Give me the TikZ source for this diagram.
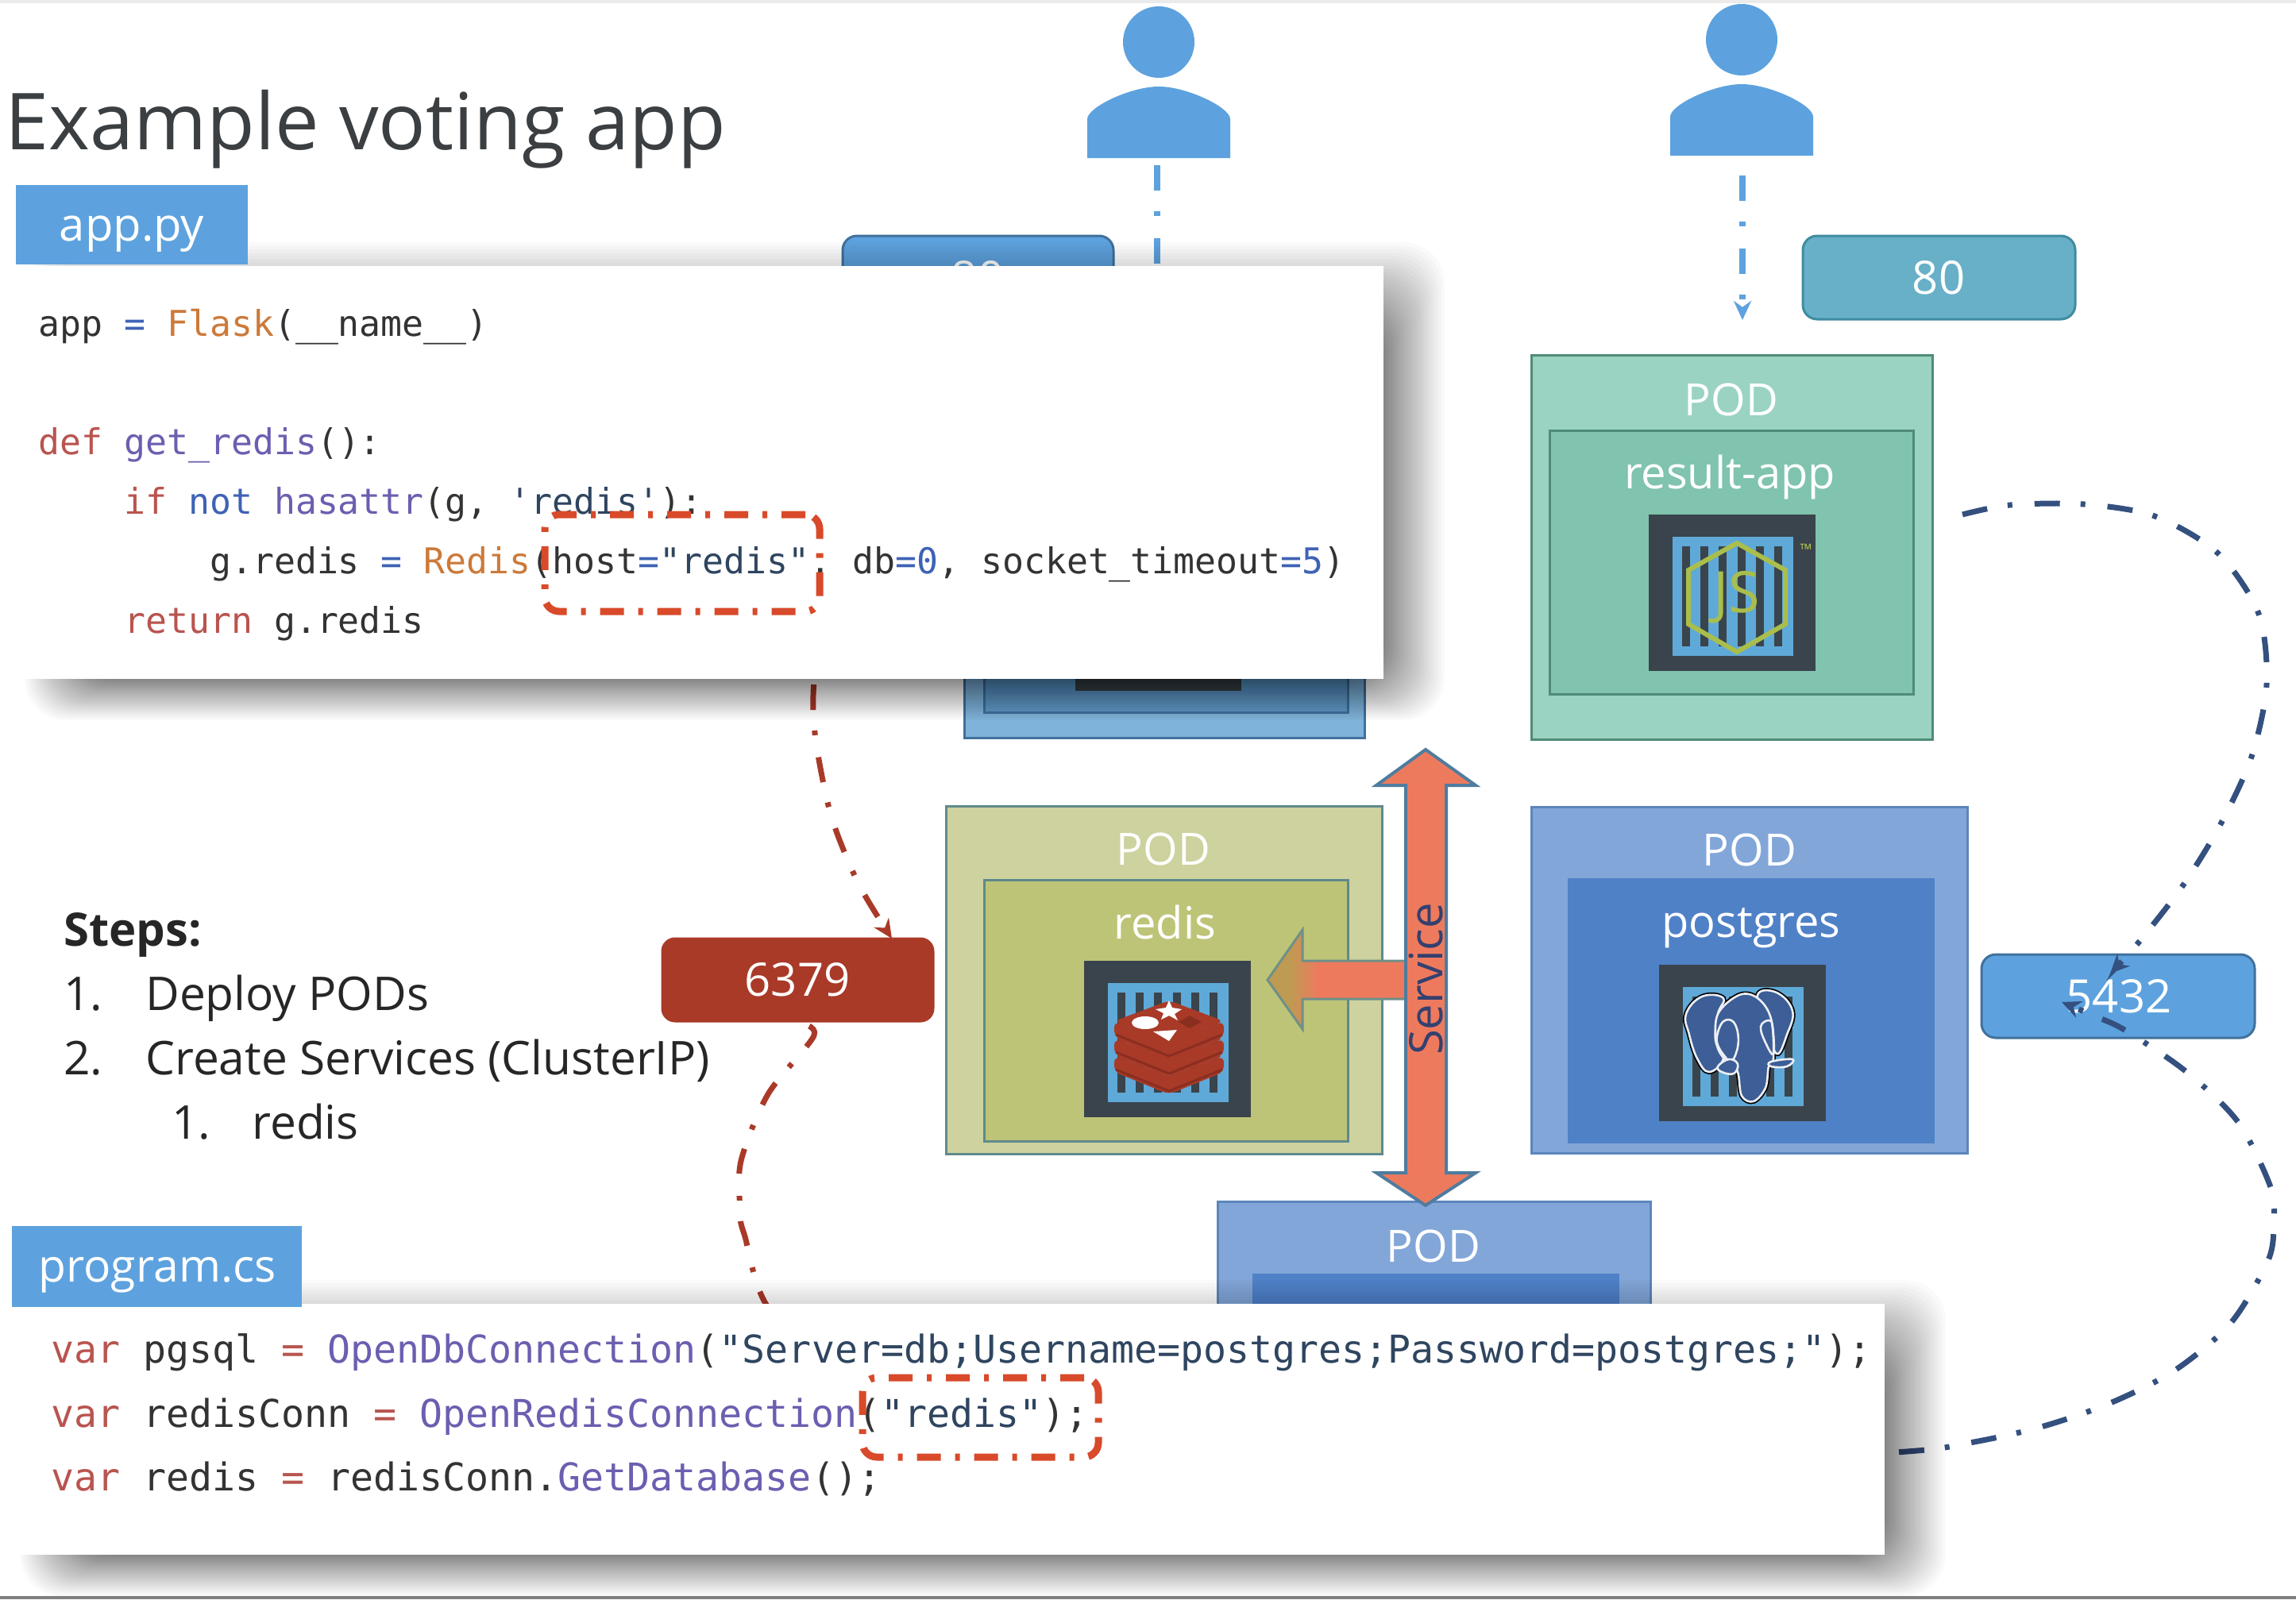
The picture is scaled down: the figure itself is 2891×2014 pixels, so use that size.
\documentclass[tikz,border=0pt]{standalone}
\usepackage{fontspec}
\setmainfont{Open Sans}
\setmonofont{DejaVu Sans Mono}
\usetikzlibrary{fit,arrows.meta,calc}
\definecolor{iconblue}{HTML}{5DA2DE}
\definecolor{dark}{HTML}{3A444C}
\definecolor{cblue}{HTML}{5FA9D8}
\definecolor{navy}{HTML}{34507F}
\definecolor{brick}{HTML}{A93A28}
\definecolor{brickdark}{HTML}{8A2E20}
\definecolor{redbox}{HTML}{D84A2A}
\definecolor{ckw}{HTML}{B9544F}
\definecolor{corg}{HTML}{CC7A3A}
\definecolor{cpur}{HTML}{6A5FB0}
\definecolor{cblu}{HTML}{3F62B5}
\definecolor{cstr}{HTML}{2F4560}
\definecolor{ctxt}{HTML}{333333}
\definecolor{nodeg}{HTML}{A9BE4C}
\definecolor{resout}{HTML}{9AD3C2}
\definecolor{resin}{HTML}{80C3AE}
\definecolor{resline}{HTML}{4F8C78}
\definecolor{redout}{HTML}{CDD29E}
\definecolor{redin}{HTML}{BEC477}
\definecolor{redline}{HTML}{5F8A8C}
\definecolor{pgout}{HTML}{82A6D8}
\definecolor{pgin}{HTML}{4F81C7}
\definecolor{pgline}{HTML}{5B86BC}
\definecolor{elephant}{HTML}{3D5E96}
\definecolor{portline}{HTML}{41719C}
\definecolor{port80}{HTML}{67B0C8}
\definecolor{port80line}{HTML}{3F8CA0}
\definecolor{svcfill}{HTML}{EE7A5E}
\definecolor{svcline}{HTML}{4F7C9F}
\definecolor{svctext}{HTML}{34406F}
\definecolor{arrleft}{HTML}{BF9A52}
\definecolor{arrline}{HTML}{6E9088}
\definecolor{titlecol}{HTML}{3B3F42}
\definecolor{voteout}{HTML}{7FB3D9}
\definecolor{votein}{HTML}{5F97C6}
\pgfdeclarehorizontalshading{svcarrow}{100bp}{color(0bp)=(arrleft); color(33bp)=(arrleft); color(43bp)=(svcfill); color(100bp)=(svcfill)}
\tikzset{
  x=0.5pt,y=-0.5pt,
  fitbox/.style={inner sep=0pt,line width=1.5pt},
  podtext/.style={text=white,font=\fontsize{28}{34}\selectfont,inner sep=0pt},
  porttext/.style={text=white,font=\fontsize{29}{35}\selectfont,inner sep=0pt},
  steptext/.style={anchor=base west,inner sep=0pt,text=black!85,font=\fontsize{29.3}{35}\selectfont},
  pycode/.style={anchor=base west,inner sep=0pt,text=ctxt,font=\ttfamily\fontsize{22.4}{27}\selectfont},
  cscode/.style={anchor=base west,inner sep=0pt,text=ctxt,font=\ttfamily\fontsize{24.1}{29}\selectfont},
  dashdot/.style={dash pattern=on 16pt off 13pt on 3pt off 14pt},
  flowline/.style={dashdot,line width=3.5pt},
  redmark/.style={draw=redbox,line width=4.5pt,rounded corners=9pt,inner sep=0pt,dash pattern=on 15pt off 9pt on 3pt off 9pt},
  tip/.style={-{Stealth[length=12pt,width=11pt]}},
  elephantunder/.style={draw=black,line width=3pt},
  elephantpart/.style={fill=elephant,draw=white!90!elephant,line width=1.3pt},
  elephantline/.style={draw=white!90!elephant,line width=1.3pt},
}
\newcommand{\kperson}[2]{%
  \begin{scope}[shift={(#1,#2)}]
    \fill[iconblue] (0,53) ellipse [x radius=45,y radius=45];
    \fill[iconblue] (-90,199) -- (-90,150) .. controls (-90,135) and (-35,109) .. (0,109)
      .. controls (35,109) and (90,135) .. (90,150) -- (90,199) -- cycle;
  \end{scope}}
\newcommand{\kcontainer}[2]{%
  \begin{scope}[shift={(#1,#2)}]
    \fill[dark] (0,0) rectangle (210,197);
    \fill[cblue] (30,28) rectangle (182,178);
    \foreach \s in {0,...,5}{\fill[dark] ({42+\s*23.2},40) rectangle ({52+\s*23.2},166);}
  \end{scope}}
\newcommand{\ksoftshadow}[4]{%
  \foreach \i in {1,...,44}{%
    \pgfmathsetmacro{\kt}{(\i/44)^1.7}%
    \fill[black,opacity=0.019,rounded corners=26pt]
      ({#1+85-75*\kt},{#2+85-115*\kt}) rectangle ({#3-15+92*\kt},{#4-10+62*\kt});
  }}
\begin{document}
\begin{tikzpicture}
\useasboundingbox (0,0) rectangle (2891,2014);
\fill[white] (0,0) rectangle (2891,2014);
\fill[black!8] (0,0) rectangle (2891,4);

% users
\kperson{1459}{0}
\kperson{2193}{-3}
\coordinate (u1) at (1457,208);
\coordinate (u1end) at (1457,345);
\coordinate (u2) at (2194,221);
\coordinate (u2end) at (2194,403);
\draw[iconblue,line width=4pt,dashdot] (u1) -- (u1end);
\draw[iconblue,line width=4pt,dashdot,tip] (u2) -- (u2end);

% service ports behind and beside
\node[fitbox,draw=portline,fill=iconblue,rounded corners=9pt,fit={(1061,297) (1402,402)}] (port80a) {};
\node[porttext] (port80atext) at (1231,350) {80};
\node[fitbox,draw=port80line,fill=port80,rounded corners=9pt,fit={(2270,297) (2613,402)}] (port80b) {};
\node[porttext] (port80btext) at (2441,350) {80};

% hidden voting pod
\node[fitbox,draw=portline,fill=voteout,fit={(1214,700) (1718,929)}] (votepod) {};
\node[fitbox,draw=portline,fill=votein,fit={(1239,720) (1697,897)}] (voteinner) {};
\fill[dark] (1354,760) rectangle (1563,870);

% result pod
\node[fitbox,draw=resline,fill=resout,fit={(1928,447) (2433,931)}] (resultpod) {};
\node[fitbox,draw=resline,fill=resin,fit={(1951,542) (2409,874)}] (resultin) {};
\node[podtext] (resultpodt) at (2180,503) {POD};
\node[podtext] (resultt) at (2178,601) {result-app};
\kcontainer{2076}{648}
\draw[nodeg,line width=3pt] (2187,684) -- (2248,718) -- (2248,786) -- (2187,821) -- (2126,786) -- (2126,718) -- cycle;
\node[text=nodeg,inner sep=0pt,font=\fontsize{36}{40}\selectfont] (jslogo) at (2187,752) {JS};
\node[text=nodeg,inner sep=0pt,font=\fontsize{10}{11}\selectfont] (tmlogo) at (2274,692) {™};

% redis pod
\node[fitbox,draw=redline,fill=redout,fit={(1191,1015) (1740,1453)}] (redispod) {};
\node[fitbox,draw=redline,fill=redin,fit={(1239,1108) (1697,1437)}] (redisin) {};
\node[podtext] (redispodt) at (1465,1069) {POD};
\node[podtext] (redist) at (1467,1161) {redis};
\kcontainer{1365}{1210}
\foreach \d in {44,22,0}{
  \fill[brick,rounded corners=4pt] (1403,{1286+\d}) -- (1472,{1312+\d}) -- (1541,{1286+\d}) -- (1541,{1306+\d}) -- (1472,{1334+\d}) -- (1403,{1306+\d}) -- cycle;
  \draw[brickdark,line width=1.5pt] (1405,{1303+\d}) -- (1472,{1330+\d}) -- (1539,{1303+\d});
  \fill[brick,rounded corners=4pt] (1472,{1260+\d}) -- (1541,{1286+\d}) -- (1472,{1312+\d}) -- (1403,{1286+\d}) -- cycle;
}
\fill[white] (1442,1288) ellipse [x radius=17,y radius=8];
\fill[white] (1472,1260) -- (1476,1269) -- (1488,1271) -- (1479,1277) -- (1483,1285) -- (1472,1279) -- (1462,1284) -- (1465,1276) -- (1455,1271) -- (1468,1269) -- cycle;
\fill[white] (1452,1299) -- (1482,1297) -- (1472,1311) -- cycle;
\fill[brickdark] (1498,1279) -- (1513,1287) -- (1498,1295) -- (1484,1287) -- cycle;

% postgres pod
\node[fitbox,draw=pgline,fill=pgout,fit={(1928,1016) (2477,1452)}] (pgpod) {};
\node[fitbox,draw=pgin,fill=pgin,fit={(1975,1107) (2434,1438)}] (pginner) {};
\node[podtext] (pgpodt) at (2203,1070) {POD};
\node[podtext] (pgt) at (2205,1169) {postgres};
\kcontainer{2089}{1215}
\draw[elephantunder] plot[smooth cycle,tension=0.7] coordinates {(2123,1277) (2143,1255) (2170,1257) (2163,1277) (2160,1310) (2170,1333) (2152,1350) (2137,1333) (2127,1303)};
\draw[elephantunder] plot[smooth cycle,tension=0.7] coordinates {(2213,1253) (2237,1250) (2257,1273) (2250,1303) (2237,1327) (2225,1290)};
\draw[elephantunder] plot[smooth cycle,tension=0.6] coordinates {(2163,1277) (2190,1253) (2213,1257) (2230,1283) (2233,1333) (2227,1343) (2223,1370) (2208,1387) (2193,1380) (2188,1350) (2177,1337) (2162,1313)};
\filldraw[elephantpart] plot[smooth cycle,tension=0.7] coordinates {(2123,1277) (2143,1255) (2170,1257) (2163,1277) (2160,1310) (2170,1333) (2152,1350) (2137,1333) (2127,1303)};
\filldraw[elephantpart] plot[smooth cycle,tension=0.7] coordinates {(2213,1253) (2237,1250) (2257,1273) (2250,1303) (2237,1327) (2225,1290)};
\filldraw[elephantpart] plot[smooth cycle,tension=0.6] coordinates {(2163,1277) (2190,1253) (2213,1257) (2230,1283) (2233,1333) (2227,1343) (2223,1370) (2208,1387) (2193,1380) (2188,1350) (2177,1337) (2162,1313)};
\draw[elephantline] plot[smooth cycle,tension=0.7] coordinates {(2167,1290) (2180,1285) (2188,1300) (2187,1323) (2177,1337) (2162,1317)};
\draw[elephantline] plot[smooth cycle,tension=0.7] coordinates {(2217,1293) (2227,1285) (2232,1293) (2233,1327) (2223,1313)};
\filldraw[elephantpart] plot[smooth cycle,tension=0.7] coordinates {(2230,1337) (2257,1334) (2250,1343) (2230,1343)};
\filldraw[elephantpart] plot[smooth cycle,tension=0.7] coordinates {(2163,1343) (2177,1334) (2188,1340) (2183,1352) (2168,1350)};

% bottom pod
\node[fitbox,draw=pgline,fill=pgout,fit={(1533,1513) (2078,1680)}] (workerpod) {};
\node[fitbox,draw=pgin,fill=pgin,fit={(1578,1605) (2037,1680)}] (workerin) {};
\node[podtext] (workert) at (1805,1569) {POD};

% service arrows
\shade[shading=svcarrow,draw=arrline,line width=1.5pt]
  (1596,1234) -- (1640,1171) -- (1640,1210) -- (1775,1210) -- (1775,1258) -- (1640,1258) -- (1640,1296) -- cycle;
\filldraw[fill=svcfill,draw=svcline,line width=2pt]
  (1795,944) -- (1858,989) -- (1821,989) -- (1821,1477) -- (1858,1477) -- (1795,1518) -- (1733,1477) -- (1770,1477) -- (1770,989) -- (1733,989) -- cycle;
\node[rotate=90,inner sep=0pt,text=svctext,font=\fontsize{29}{35}\selectfont] (servicet) at (1795,1233) {Service};

% ports
\node[fitbox,draw=brick,fill=brick,rounded corners=8pt,fit={(834,1182) (1175,1286)}] (port6379) {};
\node[porttext] (p6379t) at (1004,1234) {6379};
\node[fitbox,draw=portline,fill=iconblue,rounded corners=9pt,fit={(2495,1202) (2839,1307)}] (port5432) {};
\node[porttext] (p5432t) at (2668,1255) {5432};

% marks in code (named first, for connectors)
\node[fit={(686,648) (1032,770)},inner sep=0pt] (pyref) {};
\node[fit={(1086,1735) (1383,1835)},inner sep=0pt] (csref) {};

% connectors
\coordinate (tip6379) at (1123,1182);
\coordinate (tip5432a) at (2657,1226);
\coordinate (tip5432b) at (2596,1262);
\coordinate (resultout) at (2471,648);
\draw[brick,flowline,tip] plot[smooth] coordinates {(pyref.south east) (1024,875) (1028,938) (1047,1029) (1081,1113) (tip6379)};
\draw[brick,flowline] plot[smooth] coordinates {(csref.north) (1150,1700) (980,1660) (937,1554) (932,1523) (933,1462) (967,1378) (1025,1304) (port6379.south)};
\draw[navy,flowline,tip] plot[smooth] coordinates {(resultout) (2531,636) (2624,635) (2713,650) (2793,697) (2844,773) (2854,862) (2835,953) (2796,1038) (2748,1116) (2691,1189) (tip5432a)};
\draw[navy,flowline,tip] plot[smooth] coordinates {(csref.east) (2000,1850) (2387,1829) (2480,1817) (2570,1797) (2657,1767) (2738,1726) (2809,1666) (2856,1587) (2863,1540) (2859,1495) (2818,1413) (2752,1349) (2675,1297) (2636,1279) (tip5432b)};

% code panels
\ksoftshadow{21}{335}{1742}{855}
\ksoftshadow{15}{1642}{2373}{1958}
\node[fit={(21,335) (1742,855)},fill=white,inner sep=0pt] (pypanel) {};
\node[fit={(15,1642) (2373,1958)},fill=white,inner sep=0pt] (cspanel) {};
\node[fit={(20,233) (312,333)},fill=iconblue,inner sep=0pt] (pytab) {};
\node[text=white,inner sep=0pt,font=\fontsize{29}{35}\selectfont] (pytabt) at (166,295) {app.py};
\node[fit={(15,1544) (380,1646)},fill=iconblue,inner sep=0pt] (cstab) {};
\node[text=white,inner sep=0pt,font=\fontsize{28.5}{35}\selectfont] (cstabt) at (198,1606) {program.cs};

% python code
\node[pycode] (py1) at (48,423) {app \textcolor{cblu}{=} \textcolor{corg}{Flask}(\_\_name\_\_)};
\node[pycode] (py2) at (48,572) {\textcolor{ckw}{def} \textcolor{cpur}{get\_redis}():};
\node[pycode] (py3) at (48,647) {\phantom{xxxx}\textcolor{ckw}{if} \textcolor{cblu}{not} \textcolor{cpur}{hasattr}(g, \textcolor{cstr}{'redis'}):};
\node[pycode] (py4) at (48,722) {\phantom{xxxxxxxx}g.redis \textcolor{cblu}{=} \textcolor{corg}{Redis}(host\textcolor{cblu}{=}\textcolor{cstr}{"redis"}, db\textcolor{cblu}{=0}, socket\_timeout\textcolor{cblu}{=5})};
\node[pycode] (py5) at (48,797) {\phantom{xxxx}\textcolor{ckw}{return} g.redis};
\node[fit={(686,648) (1032,770)},redmark] (pybox) {};

% csharp code
\node[cscode] (cs1) at (64,1716) {\textcolor{ckw}{var} pgsql \textcolor{ckw}{=} \textcolor{cpur}{OpenDbConnection}(\textcolor{cstr}{"Server=db;Username=postgres;Password=postgres;"});};
\node[cscode] (cs2) at (64,1797) {\textcolor{ckw}{var} redisConn \textcolor{ckw}{=} \textcolor{cpur}{OpenRedisConnection}(\textcolor{cstr}{"redis"});};
\node[cscode] (cs3) at (64,1877) {\textcolor{ckw}{var} redis \textcolor{ckw}{=} redisConn.\textcolor{cpur}{GetDatabase}();};
\node[fit={(1086,1735) (1383,1835)},redmark] (csbox) {};

% title and steps
\node[anchor=base west,inner sep=0pt,text=titlecol,font=\fontsize{49.5}{58}\selectfont] (title) at (6,188) {Example voting app};
\node[steptext,font=\bfseries\fontsize{29}{35}\selectfont] (steps) at (80,1191) {Steps:};
\node[steptext] (n1) at (80,1272) {1.};
\node[steptext] (s1) at (183,1272) {Deploy PODs};
\node[steptext] (n2) at (80,1353) {2.};
\node[steptext] (s2) at (183,1353) {Create Services (ClusterIP)};
\node[steptext] (n3) at (216,1434) {1.};
\node[steptext] (s3) at (317,1434) {redis};

% bottom edge of the frame
\fill[black!50] (0,2010) rectangle (2891,2014);
\end{tikzpicture}
\end{document}
